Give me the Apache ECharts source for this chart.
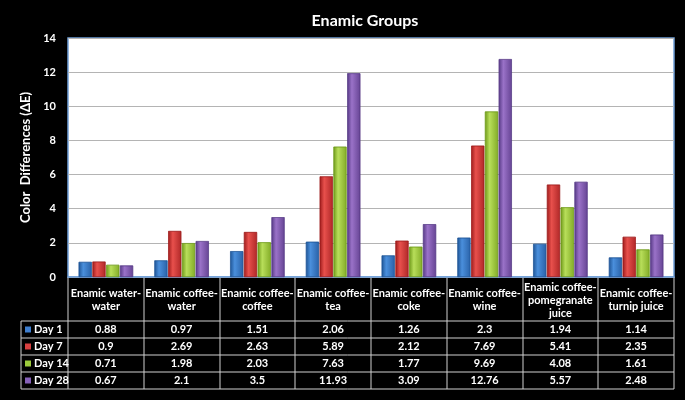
<!DOCTYPE html>
<html><head><meta charset="utf-8">
<script src="https://cdn.jsdelivr.net/npm/echarts@6/dist/echarts.min.js"></script>
<style>html,body{margin:0;padding:0;background:#000;}#c{width:685px;height:400px;}</style>
</head><body><div id="c"></div>
<script>
const categories = ['Enamic water-\nwater','Enamic coffee-\nwater','Enamic coffee-\ncoffee','Enamic coffee-\ntea','Enamic coffee-\ncoke','Enamic coffee-\nwine','Enamic coffee-\npomegranate\njuice','Enamic coffee-\nturnip juice'];
const seriesNames = ['Day 1','Day 7','Day 14','Day 28'];
const day1 = [0.88,0.97,1.51,2.06,1.26,2.3,1.94,1.14];
const day7 = [0.9,2.69,2.63,5.89,2.12,7.69,5.41,2.35];
const day14 = [0.71,1.98,2.03,7.63,1.77,9.69,4.08,1.61];
const day28 = [0.67,2.1,3.5,11.93,3.09,12.76,5.57,2.48];
const tableLabels = ['Day 1','Day 7','Day 14','Day 28'];

const seriesData = [day1, day7, day14, day28];
const palette = [
  ['#1f5596','#4a8fdc','#2a62a8'],
  ['#9e1c1c','#e8504c','#b02828'],
  ['#6f9a1a','#b8de5a','#84ad28'],
  ['#573a86','#9a72c8','#664494']
];
const swatch = ['#3f7fcf','#d84040','#9dcc3c','#8560b8'];
const FONT = 'Lato, "Open Sans", sans-serif';

const chart = echarts.init(document.getElementById('c'));
const GL = 68, GR = 674, GT = 38, GB = 277;

function grad(p){
  return new echarts.graphic.LinearGradient(0,0,1,0,[
    {offset:0,color:p[0]},{offset:0.35,color:p[1]},{offset:1,color:p[2]}]);
}

chart.setOption({
  backgroundColor:'#000',
  animation:false,
  title:{text:'Enamic Groups',left:360,top:8,textAlign:'center',
    textStyle:{color:'#fff',fontSize:16,fontWeight:'bold',fontFamily:FONT}},
  grid:{left:GL,right:685-GR,top:GT,bottom:400-GB,show:true,backgroundColor:'#fff',
    borderColor:'#6f9fd8',borderWidth:1.5,containLabel:false},
  xAxis:{type:'category',data:categories,
    axisLine:{show:true,lineStyle:{color:'#6f9fd8',width:1.5}},
    axisTick:{show:false},
    splitLine:{show:false},
    axisLabel:{color:'#fff',fontWeight:'bold',fontSize:11,fontFamily:FONT,
      interval:0,margin:23,verticalAlign:'middle',lineHeight:13}},
  yAxis:{type:'value',min:0,max:14,interval:2,
    name:'Color  Differences (ΔE)',nameLocation:'middle',nameRotate:90,nameGap:34,
    nameTextStyle:{color:'#fff',fontWeight:'bold',fontSize:13,fontFamily:FONT},
    axisLine:{show:false},axisTick:{show:false},
    axisLabel:{color:'#fff',fontWeight:'bold',fontSize:11,fontFamily:FONT,margin:12},
    splitLine:{show:true,lineStyle:{color:'#b4b4b4',width:1}}},
  series: seriesNames.map((n,i)=>({
    name:n,type:'bar',data:seriesData[i],barWidth:13,barGap:'6%',
    itemStyle:{color:grad(palette[i]),borderColor:palette[i][0],borderWidth:0.5}
  }))
});

// table
const g = [];
const lineColor = '#d0d0d0';
const rowY = [321,338,355,372,389];
const colW = (GR-GL)/categories.length;
rowY.forEach(y=>g.push({type:'line',shape:{x1:21,y1:y,x2:GR,y2:y},style:{stroke:lineColor,lineWidth:1}}));
for(let k=0;k<=categories.length;k++){
  const x = Math.round(GL+colW*k);
  g.push({type:'line',shape:{x1:x,y1:GB,x2:x,y2:389},style:{stroke:lineColor,lineWidth:1}});
}
g.push({type:'line',shape:{x1:21,y1:321,x2:21,y2:389},style:{stroke:lineColor,lineWidth:1}});
tableLabels.forEach((lab,r)=>{
  const cy = (rowY[r]+rowY[r+1])/2;
  g.push({type:'rect',shape:{x:25,y:cy-3,width:6,height:6},style:{fill:swatch[r]}});
  g.push({type:'text',style:{text:lab,x:34,y:cy,fill:'#fff',font:'bold 11px '+FONT,align:'left',verticalAlign:'middle'}});
  seriesData[r].forEach((v,c)=>{
    const cx = chart.convertToPixel({xAxisIndex:0}, c);
    g.push({type:'text',style:{text:String(v),x:cx,y:cy,fill:'#fff',font:'bold 11px '+FONT,align:'center',verticalAlign:'middle'}});
  });
});
chart.setOption({graphic:g});
</script></body></html>
